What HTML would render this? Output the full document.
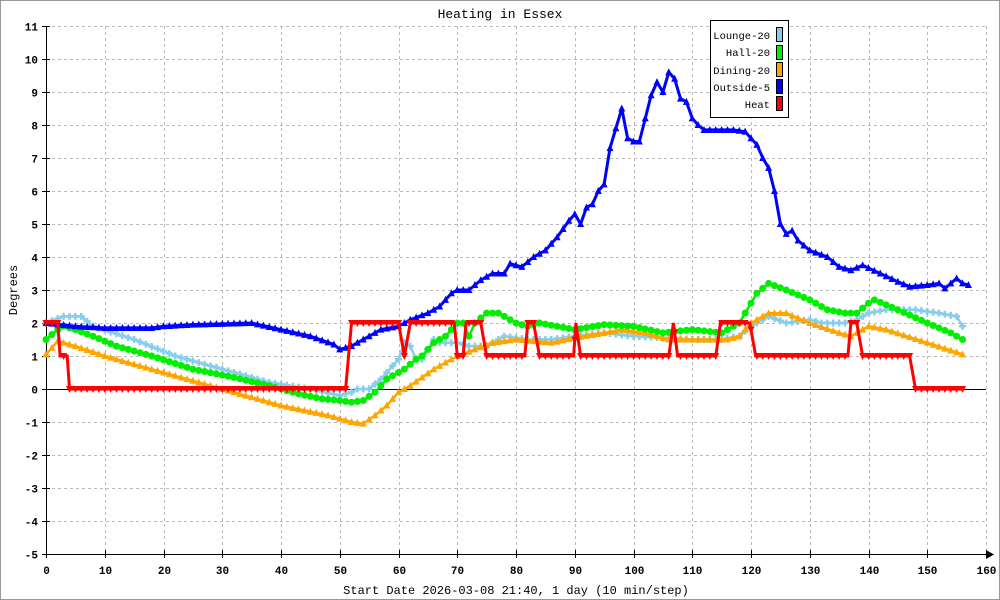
<!DOCTYPE html>
<html><head><meta charset="utf-8"><style>
body{margin:0;background:#fff}
svg{display:block;font-family:"Liberation Mono","DejaVu Sans Mono",monospace}
</style></head><body>
<svg id="s" width="1000" height="600" xmlns="http://www.w3.org/2000/svg">
<rect x="0.5" y="0.5" width="999" height="599" fill="#fff" stroke="#999"/>
<g id="grid"></g>
<g id="data"></g>
<text x="500" y="18" text-anchor="middle" font-size="13">Heating in Essex</text>
<text x="516" y="594" text-anchor="middle" font-size="12">Start Date 2026-03-08 21:40, 1 day (10 min/step)</text>
<text transform="translate(17,290) rotate(-90)" text-anchor="middle" font-size="12">Degrees</text>
<g>
<rect x="710.5" y="20.5" width="78" height="97" fill="#fff" stroke="#000"/>
<g font-size="10.5" text-anchor="end">
<text x="770" y="39">Lounge-20</text><text x="770" y="56">Hall-20</text><text x="770" y="74">Dining-20</text><text x="770" y="91">Outside-5</text><text x="770" y="108">Heat</text>
</g>
<rect x="776.5" y="27.5" width="6" height="14" fill="#87ceeb" stroke="#000"/>
<rect x="776.5" y="45.5" width="6" height="14" fill="#00ee00" stroke="#000"/>
<rect x="776.5" y="62.5" width="6" height="14" fill="#ffa500" stroke="#000"/>
<rect x="776.5" y="79.5" width="6" height="14" fill="#0000ff" stroke="#000"/>
<rect x="776.5" y="96.5" width="6" height="14" fill="#ff0000" stroke="#000"/>
</g>
</svg>
<script>
var NS="http://www.w3.org/2000/svg";
function X(t){return 46+5.875*t}function Y(v){return 389-33*v}
function el(p,n,a,txt){var e=document.createElementNS(NS,n);for(var k in a)e.setAttribute(k,a[k]);if(txt!=null)e.textContent=txt;p.appendChild(e);return e}
var g=document.getElementById('grid');
for(var v=-5;v<=11;v++){var y=Y(v)+0.5;
 if(v!=0)el(g,'line',{x1:46,x2:986,y1:y,y2:y,stroke:'#bbb','stroke-dasharray':'3,3'});
 el(g,'line',{x1:42,x2:50,y1:y,y2:y,stroke:'#000'});
 el(g,'text',{x:38,y:y+4,'text-anchor':'end','font-size':'11','font-weight':'bold'},v);}
for(var t=0;t<=160;t+=10){var x=Math.round(X(t))+0.5;
 if(t>0)el(g,'line',{x1:x,x2:x,y1:26,y2:554,stroke:'#bbb','stroke-dasharray':'3,3'});
 el(g,'line',{x1:x,x2:x,y1:550,y2:558,stroke:'#000'});
 el(g,'text',{x:x,y:574,'text-anchor':'middle','font-size':'11','font-weight':'bold'},t);}
el(g,'line',{x1:46.5,x2:46.5,y1:26,y2:554,stroke:'#000'});
el(g,'line',{x1:46,x2:990,y1:554.5,y2:554.5,stroke:'#000'});
el(g,'line',{x1:46,x2:986,y1:389.5,y2:389.5,stroke:'#000'});
el(g,'path',{d:'M986,550 L994,554.5 L986,559 Z',fill:'#000'});
function interp(pts,t){for(var i=0;i<pts.length-1;i++){if(t>=pts[i][0]&&t<=pts[i+1][0]){var a=pts[i],b=pts[i+1];return a[1]+(b[1]-a[1])*(t-a[0])/(b[0]-a[0]||1)}}return null}
function parse(s){return s.trim().split(/\s+/).map(function(p){var q=p.split(':');return[+q[0],+q[1]]})}
var d=document.getElementById('data');
function series(s,col,mk,w,tmax,step){var pts=parse(s);var arr=[];
 for(var t=0;t<=tmax;t++){var v=interp(pts,t);if(v!=null)arr.push([X(t),Y(v)])}
 var P=step?pts.map(function(p){return X(p[0]).toFixed(1)+','+Y(p[1]).toFixed(1)}).join(' '):arr.map(function(p){return p[0].toFixed(1)+','+p[1].toFixed(1)}).join(' ');
 el(d,'polyline',{points:P,fill:'none',stroke:col,'stroke-width':w});
 arr.forEach(function(p){var x=p[0],y=p[1];
  if(mk=='c')el(d,'circle',{cx:x,cy:y,r:3.5,fill:col});
  else if(mk=='t')el(d,'path',{d:'M'+(x-3.5)+','+(y+3)+' L'+x+','+(y-4)+' L'+(x+3.5)+','+(y+3)+'Z',fill:col});
  else if(mk=='v')el(d,'path',{d:'M'+(x-3.5)+','+(y-3)+' L'+x+','+(y+4)+' L'+(x+3.5)+','+(y-3)+'Z',fill:col});
  else if(mk=='x'){el(d,'path',{d:'M'+(x-3.5)+','+y+' L'+(x+3.5)+','+y+' M'+x+','+(y-3.5)+' L'+x+','+(y+3.5),stroke:col,'stroke-width':2.5});}
 });}
series("0:2.0 3:2.2 6:2.2 8:1.9 15:1.5 22:1.0 30:0.6 38:0.2 45:0.0 50:-0.2 52:-0.1 53:0 55:0 57:0.3 60:0.9 61:1.4 62:1.3 63:0.9 64:0.9 66:1.5 67:1.4 68:1.4 70:1.4 72:1.3 75:1.3 78:1.6 82:1.5 86:1.5 90:1.6 95:1.7 100:1.6 105:1.55 110:1.5 115:1.5 118:1.6 120:1.9 123:2.2 126:2.0 130:2.1 132:2.0 136:2.0 138:2.1 140:2.3 143:2.4 148:2.4 152:2.3 155:2.2 156:1.9",'#87ceeb','x',2.5,156);
series("0:1.05 2:1.45 5:1.3 10:1.0 20:0.5 30:0.0 40:-0.5 48:-0.8 52:-1.0 54:-1.05 56:-0.8 58:-0.5 60:-0.1 62:0.1 66:0.6 70:1.0 73:1.2 76:1.4 80:1.5 86:1.4 90:1.55 95:1.7 98:1.8 102:1.7 106:1.5 110:1.5 116:1.5 118:1.6 120:2.0 123:2.3 126:2.3 130:2.0 135:1.7 137:1.6 140:1.9 143:1.8 150:1.4 156:1.05",'#ffa500','t',2.5,156);
series("0:1.5 2:1.8 3:1.9 5:1.8 8:1.6 12:1.3 18:1.0 25:0.6 32:0.35 38:0.1 43:-0.15 47:-0.3 50:-0.35 52:-0.4 54:-0.35 56:-0.1 58:0.3 61:0.6 63:0.9 64:1.0 66:1.4 68:1.6 70:2.0 71:2.0 72:1.6 73:2.0 75:2.3 77:2.3 80:2.0 82:1.9 84:2.0 90:1.8 95:1.95 100:1.9 105:1.7 110:1.8 115:1.7 118:2.0 121:2.9 123:3.2 126:3.0 130:2.7 133:2.4 136:2.3 138:2.3 140:2.6 141:2.7 145:2.4 150:2.0 154:1.7 156:1.5",'#00ee00','c',2.5,156);
series("0:2.0 5:1.9 10:1.85 18:1.85 20:1.9 25:1.95 35:2.0 40:1.8 45:1.6 49:1.35 50:1.2 52:1.3 54:1.5 57:1.8 60:1.9 62:2.1 65:2.3 67:2.5 69:2.9 70:3.0 72:3.0 74:3.3 76:3.5 78:3.5 79:3.8 81:3.7 83:4.0 85:4.2 87:4.6 89:5.1 90:5.3 91:5.0 92:5.5 93:5.6 94:6.0 95:6.2 96:7.3 97:7.9 98:8.5 99:7.6 100:7.5 101:7.5 102:8.2 103:8.9 104:9.3 105:9.0 106:9.6 107:9.4 108:8.8 109:8.7 110:8.2 111:8.0 112:7.85 117:7.85 119:7.8 121:7.4 122:7.0 123:6.7 124:6.0 125:5.0 126:4.7 127:4.8 128:4.5 130:4.2 133:4.0 135:3.7 137:3.6 139:3.75 142:3.5 145:3.25 147:3.1 150:3.15 152:3.2 153:3.05 155:3.35 156:3.2 157:3.15",'#0000ff','t',3,157);
series("0:2 2:2 2.4:1 3.6:1 4:0 51:0 52:2 60:2 61:1 62:2 69.5:2 70:1 71:1 71.5:2 74:2 75:1 81.5:1 82:2 83:2 84:1 89.8:1 90.2:2 91:1 106:1 106.8:2 107.5:1 114:1 114.8:2 119.8:2 120.8:1 136.5:1 137:2 138:2 139:1 147:1 148:0 156:0",'#ff0000','v',3,156,true);
</script>
</body></html>
